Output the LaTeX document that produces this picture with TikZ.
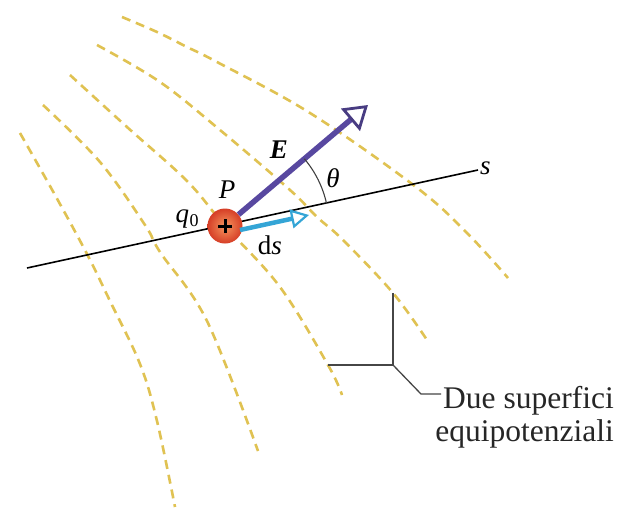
\documentclass[tikz,border=0pt]{standalone}
\usepackage{fontspec}
\setmainfont{Liberation Serif}
\usetikzlibrary{arrows.meta,angles}
\definecolor{eqcol}{RGB}{224,194,82}
\definecolor{Ecol}{RGB}{88,72,160}
\definecolor{Ehead}{RGB}{72,60,130}
\definecolor{dscol}{RGB}{52,165,214}
\definecolor{leadcol}{RGB}{70,70,70}
\tikzset{
  equip/.style={eqcol, line width=2.6pt, dash pattern=on 9pt off 6pt},
  sline/.style={black, line width=1.6pt},
  Earrow/.style={Ecol, line width=5.5pt, -{Triangle[color=Ehead, fill=white, length=23pt, width=29pt, line width=2.8pt]}},
  dsarrow/.style={dscol, line width=4.5pt, -{Triangle[fill=white, length=18pt, width=19pt, line width=2.2pt]}},
  lab/.style={font=\fontsize{27}{29}\selectfont, inner sep=0pt},
  captext/.style={font=\fontsize{31.5}{34}\selectfont, inner sep=0pt, text=black!85},
  leader/.style={leadcol, line width=1.3pt}
}
\begin{document}
\begin{tikzpicture}[x=1pt, y=-1pt]
\fill[white] (0,0) rectangle (619,509);
\useasboundingbox (0,0) rectangle (619,509);
% equipotential surfaces
\draw[equip] plot[smooth, tension=0.6] coordinates {(122,17) (157,32) (187,47) (217,62) (310,113) (416,187) (467,233) (508,278)};
\draw[equip] plot[smooth, tension=0.6] coordinates {(97,45) (160,82) (220,130) (290,190) (317,217) (343,240) (393,293) (427,340)};
\draw[equip] plot[smooth, tension=0.6] coordinates {(70,75) (127,127) (187,181) (225,226) (280,287) (328,365) (342,395)};
\draw[equip] plot[smooth, tension=0.6] coordinates {(43,105) (100,162) (145,225) (160,252) (207,321) (258,451)};
\draw[equip] plot[smooth, tension=0.6] coordinates {(20,133) (55,195) (87,254) (110,301) (140,364) (157,421) (175,507)};
% s line
\coordinate (sL) at (27,268);
\coordinate (sR) at (478,170);
\draw[sline] (sL) -- (sR);
\node[lab, anchor=west] (slab) at (480,168) {\itshape s};
% charge
\node[circle, minimum size=35pt, inner sep=0pt, shading=radial,
      inner color={rgb,255:red,246;green,150;blue,95},
      outer color={rgb,255:red,214;green,62;blue,38}] (q) at (225,226) {};
\draw[black, line width=3pt] ([xshift=-7pt]q.center) -- ([xshift=7pt]q.center);
\draw[black, line width=3pt] ([yshift=-7pt]q.center) -- ([yshift=7pt]q.center);
% vectors
\coordinate (Etip) at (368,105);
\coordinate (dsStart) at (240,230);
\coordinate (dstip) at (309,215);
\draw[Earrow] (q) -- (Etip);
\draw[dsarrow] (dsStart) -- (dstip);
% angle
\pic[draw=black!75, line width=1.1pt, angle radius=104pt] {angle = sR--q--Etip};
% labels
\node[lab] (Elab) at (279,150) {\bfseries\itshape E};
\node[lab] (Plab) at (227,190) {\itshape P};
\node[lab, anchor=base] (qlab) at (187,222) {\itshape q\kern0.5pt\raisebox{-4pt}{\upshape\fontsize{18}{18}\selectfont 0}};
\node[lab] (thlab) at (333,178) {\itshape θ};
\node[lab] (dslab) at (270,245) {d\itshape s};
% leader / bracket
\coordinate (bL) at (328,365);
\coordinate (bC) at (393,365);
\coordinate (bT) at (393,293);
\coordinate (bD) at (421,394);
\coordinate (bE) at (441,394);
\draw[leader] (bL) -- (bC) -- (bT);
\draw[leader] (bC) -- (bD) -- (bE);
\node[captext, anchor=base east] (c1) at (614,408) {Due superfici};
\node[captext, anchor=base east] (c2) at (614,441) {equipotenziali};
\end{tikzpicture}
\end{document}
